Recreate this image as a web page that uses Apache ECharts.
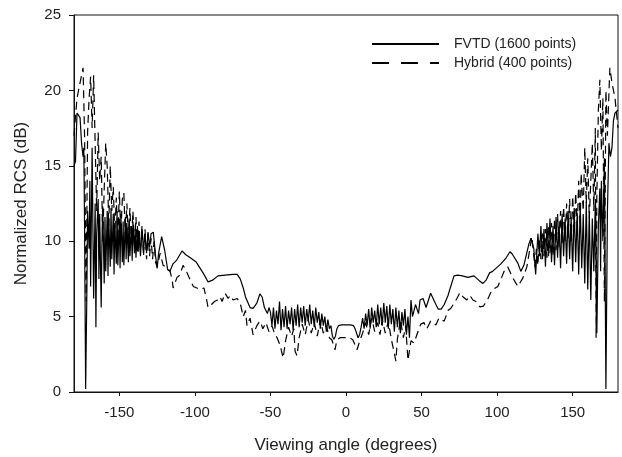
<!DOCTYPE html>
<html>
<head>
<meta charset="utf-8">
<script src="https://cdn.jsdelivr.net/npm/echarts@6/dist/echarts.min.js"></script>
<style>
  html, body { margin: 0; padding: 0; background: #fff; }
  #rcsChart { width: 622px; height: 457px; }
</style>
</head>
<body>
<div id="rcsChart"></div>
<script>
// tick labels
var xTicks = [-150, -100, -50, 0, 50, 100, 150];

// FVTD (1600 points) - solid
var fvtdAngle = [
  -180, -179, -178, -177, -176, -175, -174, -173.5, -173, -172.3, -171.5, -171, -170, -169.5, -169, -168, -167.5, -167, -166, -165.5,
  -165, -164, -163.5, -163, -162, -161.5, -161, -160, -159.5, -159, -158, -157.5, -157, -156, -155.5, -155, -154, -153.5, -153, -152,
  -151.5, -151, -150, -149.5, -149, -148, -147.5, -147, -146, -145.5, -145, -144, -143.5, -143, -142, -141.5, -141, -140, -139.5, -139,
  -138, -137.5, -137, -136, -135, -134, -133, -132, -131, -130, -129, -127.5, -126, -125, -124, -122, -120, -118, -116.5, -114.5,
  -112, -108.5, -106, -103, -99, -96.5, -94, -91.3, -88.6, -84.7, -80, -75, -72, -70, -68, -66.5, -63.5, -61.5, -59, -57,
  -55.5, -54, -52, -51, -50, -49, -48, -47, -46, -45, -44, -43, -42, -41, -40, -39, -38, -37, -36, -35,
  -34, -33, -32, -31, -30, -29, -28, -27, -26, -25, -24, -23, -22, -21, -20, -19, -18, -17, -16, -15,
  -14, -13, -12, -11, -10, -9, -8, -7, -6, -5, -3, 0, 3, 5, 6, 7, 8, 9, 10, 11,
  12, 13, 14, 15, 16, 17, 18, 19, 20, 21, 22, 23, 24, 25, 26, 27, 28, 29, 30, 31,
  32, 33, 34, 35, 36, 37, 38, 39, 40, 41, 42, 43, 44, 46, 48, 49, 51, 53, 56, 59.5,
  61, 63, 65, 67.5, 69, 71.5, 74, 77, 80.7, 84.7, 88, 90.6, 92.6, 95, 97, 102.5, 106, 108.5, 110, 113.7,
  115.7, 117.7, 121, 122.4, 124.3, 125.5, 127, 128, 129, 130, 131, 132, 133, 134, 135, 136, 137, 138, 139, 140,
  141, 142, 143, 144, 145, 146, 147, 148, 149, 150, 151, 152, 153, 154, 155, 156, 157, 158, 159, 160,
  161, 162, 163, 164, 165, 166, 167, 168, 168.5, 169, 170, 171, 172, 173, 174, 175, 176, 177, 178, 179,
  180
];
var fvtdRcs = [
  15.0, 15.3, 18.5, 18.6, 18.2, 16.5, 15.6, 16.2, 11.0, 0.2, 6.5, 12.0, 9.5, 14.0, 7.0, 16.2, 11.0, 6.2, 12.5, 4.3,
  10.5, 12.8, 7.5, 11.8, 5.6, 10.0, 12.3, 7.2, 11.6, 8.0, 12.0, 7.7, 11.5, 8.3, 12.2, 8.8, 11.8, 7.8, 11.2, 8.5,
  12.0, 8.4, 11.5, 8.2, 11.8, 8.6, 11.3, 8.4, 11.6, 8.8, 11.2, 8.6, 11.5, 9.0, 11.0, 8.7, 11.3, 9.2, 10.8, 8.9,
  11.0, 9.3, 10.6, 9.0, 10.8, 9.4, 10.5, 9.2, 10.6, 9.6, 10.5, 10.6, 9.0, 8.2, 9.2, 10.3, 9.4, 8.1, 8.0, 8.5,
  8.75, 9.35, 9.1, 8.9, 8.6, 8.2, 7.8, 7.3, 7.4, 7.7, 7.75, 7.8, 7.8, 7.5, 6.9, 6.3, 5.6, 5.55, 5.9, 6.5,
  6.3, 5.6, 5.2, 5.6, 5.3, 4.4, 5.6, 4.2, 5.4, 4.5, 6.0, 4.1, 5.5, 4.3, 5.7, 4.2, 5.4, 4.5, 5.6, 4.1,
  5.5, 4.4, 5.8, 4.3, 5.6, 4.6, 5.7, 4.4, 5.5, 4.7, 5.8, 4.5, 5.4, 4.3, 5.6, 4.6, 5.3, 4.2, 5.2, 4.4,
  5.0, 4.0, 4.8, 4.2, 4.4, 3.7, 3.5, 3.7, 4.2, 4.4, 4.45, 4.45, 4.45, 4.4, 4.2, 3.9, 3.6, 3.8, 4.3, 4.9,
  4.2, 5.2, 4.4, 5.5, 4.2, 5.6, 4.6, 5.4, 4.3, 5.8, 4.5, 5.6, 4.4, 5.9, 4.6, 5.7, 4.2, 5.8, 4.5, 5.5,
  4.0, 5.6, 4.3, 5.4, 3.9, 5.3, 4.4, 5.5, 3.8, 5.0, 3.6, 6.1, 5.0, 5.8, 5.2, 6.1, 6.2, 5.6, 6.55, 5.8,
  5.5, 5.5, 5.8, 6.4, 6.9, 7.7, 7.75, 7.7, 7.6, 7.7, 7.4, 7.2, 7.4, 7.9, 8.0, 8.5, 8.9, 9.3, 9.15, 8.55,
  8.0, 8.4, 9.8, 10.2, 9.5, 7.8, 10.5, 9.0, 11.0, 8.8, 10.8, 8.3, 11.2, 9.0, 11.5, 8.6, 11.0, 8.4, 11.6, 8.9,
  11.3, 8.2, 11.8, 9.0, 11.5, 8.5, 12.0, 8.8, 11.6, 8.0, 12.2, 8.6, 11.9, 7.8, 12.5, 8.2, 11.8, 7.2, 12.6, 6.8,
  12.0, 6.1, 11.5, 8.0, 12.8, 3.9, 11.0, 13.5, 8.0, 14.0, 10.0, 15.5, 0.2, 12.0, 16.5, 15.6, 16.2, 18.0, 18.5, 18.6,
  18.7
];

// Hybrid (400 points) - dashed
var hybridAngle = [
  -180, -178, -176, -174, -173, -172, -171, -170, -169, -168, -167, -166, -165, -164, -163, -162, -161, -160, -159, -158,
  -157, -156, -155, -154, -153, -152, -151, -150, -149, -148, -147, -146, -145, -144, -143, -142, -141, -140, -139, -138,
  -137, -136, -135, -134, -133, -132, -131, -130, -129, -128, -127, -126, -125, -123, -121, -118, -116.4, -115, -114.4, -111.8,
  -110, -107.8, -106, -103, -101, -96.6, -94, -92, -91.3, -89, -87, -85, -83.3, -82, -80, -78, -76.7, -74.7, -72, -70,
  -68, -66.5, -65.5, -63.5, -61.5, -59, -57, -55, -53, -51, -49, -47, -45.6, -43.6, -41.6, -40, -38, -36, -34.5, -33.7,
  -32.4, -31, -29, -27, -25, -23, -21, -19, -17, -15, -13, -11, -9.3, -7.3, -6, -4, -2, 0, 2.6, 4.6,
  7.3, 9.3, 11, 13, 15, 17, 19, 21, 22.5, 24, 26, 28, 30, 31.7, 33, 34, 36, 38, 39.5, 41,
  43, 45, 47.6, 49.5, 51.6, 53.5, 56, 59.5, 61.5, 65, 67.5, 69.4, 70, 73.4, 75.4, 77.5, 80, 82, 84, 86,
  88.6, 91, 94, 96.5, 100.5, 103, 105, 107, 110.5, 113.7, 115, 117, 119.7, 123, 125, 126, 127, 128, 129, 130,
  131, 132, 133, 134, 135, 136, 137, 138, 139, 140, 141, 142, 143, 144, 145, 146, 147, 148, 149, 150,
  151, 152, 153, 154, 155, 155.6, 157, 158, 159, 160, 161, 162, 163, 164, 165, 165.5, 166, 167, 168, 169,
  170, 171, 172, 173, 174.6, 176, 178, 180
];
var hybridRcs = [
  17.0, 19.5, 20.5, 21.5, 17.0, 6.0, 17.2, 19.5, 20.9, 17.5, 21.0, 16.5, 12.0, 17.2, 14.0, 15.6, 10.0, 13.5, 16.5, 14.9,
  11.0, 15.0, 12.0, 13.6, 10.5, 12.9, 10.0, 13.3, 10.5, 12.8, 13.2, 10.2, 12.5, 10.0, 12.2, 9.8, 12.0, 9.6, 11.6, 9.2,
  11.3, 9.3, 11.0, 9.0, 10.8, 8.8, 10.5, 9.0, 10.2, 8.8, 10.0, 8.6, 8.3, 9.2, 8.4, 8.2, 8.0, 7.4, 6.9, 7.6,
  7.75, 8.4, 8.1, 7.4, 7.0, 6.8, 6.9, 6.0, 5.6, 5.8, 6.0, 6.1, 6.3, 6.0, 6.55, 6.2, 6.4, 6.1, 6.2, 5.9,
  5.0, 5.4, 4.4, 4.9, 3.8, 4.4, 4.7, 4.2, 4.6, 4.0, 4.4, 3.8, 3.6, 3.1, 2.25, 3.4, 4.3, 3.7, 4.2, 2.7,
  2.4, 3.6, 4.5, 3.8, 4.8, 3.9, 4.6, 3.7, 4.8, 3.9, 4.4, 3.6, 3.45, 2.8, 3.45, 3.6, 3.6, 3.6, 3.6, 3.45,
  2.8, 3.45, 3.9, 4.6, 3.8, 4.9, 4.0, 4.6, 3.8, 4.8, 3.9, 4.7, 3.5, 2.7, 2.05, 3.5, 4.8, 3.6, 4.4, 2.1,
  3.4, 3.25, 4.0, 4.5, 4.6, 4.2, 4.7, 4.45, 4.9, 4.7, 5.4, 5.55, 5.65, 6.2, 6.6, 6.3, 6.1, 6.4, 6.1, 6.0,
  5.65, 5.7, 6.2, 6.75, 7.0, 7.6, 8.1, 8.3, 7.55, 7.0, 6.9, 7.55, 8.3, 10.3, 8.3, 9.5, 8.4, 10.2, 8.8, 10.5,
  9.0, 10.8, 8.9, 11.0, 9.2, 11.2, 9.0, 11.5, 9.4, 11.8, 9.6, 12.0, 9.8, 12.3, 10.0, 12.5, 10.2, 12.8, 10.0, 13.0,
  10.5, 13.2, 10.8, 14.0, 11.0, 14.5, 12.0, 16.2, 12.5, 15.5, 11.5, 14.0, 16.5, 12.0, 17.5, 3.6, 13.0, 18.7, 20.7, 16.0,
  19.5, 6.0, 20.0, 17.0, 21.5, 20.5, 19.5, 17.5
];

function toPairs(xs, ys) {
  var out = [];
  for (var i = 0; i < xs.length; i++) {
    out.push([xs[i], ys[i]]);
  }
  return out;
}

var myChart = echarts.init(document.getElementById("rcsChart"));

var option = {
  animation: false,
  backgroundColor: "#fff",
  textStyle: { fontFamily: "Liberation Sans, Arial, sans-serif" },
  grid: {
    left: 74,
    right: 4,
    top: 15,
    bottom: 65,
    outerBoundsMode: "none",
    show: true,
    borderColor: "#111",
    borderWidth: 1,
  },
  legend: {
    orient: "vertical",
    left: 371,
    top: 37,
    padding: 0,
    itemWidth: 67,
    itemHeight: 10,
    itemGap: 5,
    itemStyle: { opacity: 0 },
    textStyle: {
      color: "#222",
      fontSize: 14,
      padding: [0, 0, 0, 10],
    },
    data: [
      { name: "FVTD (1600 points)" },
      { name: "Hybrid (400 points)", lineStyle: { type: [17, 12] } },
    ],
  },
  xAxis: {
    type: "value",
    min: -180,
    max: 180,
    name: "Viewing angle (degrees)",
    nameLocation: "middle",
    nameGap: 45,
    nameTextStyle: { color: "#222", fontSize: 17 },
    splitLine: { show: false },
    axisLine: { show: true, onZero: false, lineStyle: { color: "#111" } },
    axisTick: {
      show: true,
      length: 4,
      customValues: xTicks,
      lineStyle: { color: "#111" },
    },
    axisLabel: {
      color: "#222",
      fontSize: 15,
      margin: 13,
      customValues: xTicks,
    },
  },
  yAxis: {
    type: "value",
    min: 0,
    max: 25,
    interval: 5,
    name: "Normalized RCS (dB)",
    nameLocation: "middle",
    nameGap: 44,
    nameTextStyle: { color: "#222", fontSize: 17 },
    splitLine: { show: false },
    axisLine: { show: true, onZero: false, lineStyle: { color: "#111" } },
    axisTick: { show: true, length: 5, lineStyle: { color: "#111" } },
    axisLabel: { color: "#222", fontSize: 15, margin: 13 },
  },
  series: [
    {
      name: "FVTD (1600 points)",
      type: "line",
      symbol: "none",
      data: toPairs(fvtdAngle, fvtdRcs),
      lineStyle: { color: "#000", width: 1.2, type: "solid" },
      itemStyle: { color: "#000" },
      z: 3,
    },
    {
      name: "Hybrid (400 points)",
      type: "line",
      symbol: "none",
      data: toPairs(hybridAngle, hybridRcs),
      lineStyle: { color: "#000", width: 1.2, type: [8, 5] },
      itemStyle: { color: "#000" },
      z: 2,
    },
  ],
};

myChart.setOption(option);
</script>
</body>
</html>
